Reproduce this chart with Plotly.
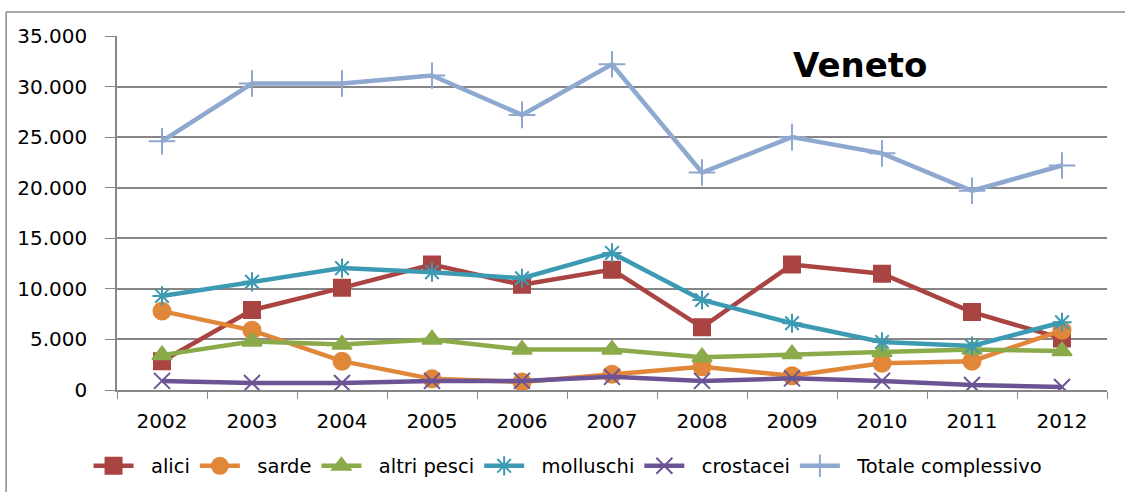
import plotly.graph_objects as go

anni = ['2002', '2003', '2004', '2005', '2006', '2007', '2008', '2009', '2010', '2011', '2012']

alici = [2850, 7900, 10100, 12400, 10400, 11900, 6200, 12400, 11500, 7700, 5100]
sarde = [7800, 5900, 2850, 1100, 800, 1550, 2300, 1400, 2650, 2850, 5900]
altri_pesci = [3450, 4800, 4500, 5000, 4000, 4000, 3250, 3550, 3750, 4000, 3850]
molluschi = [9300, 10700, 12050, 11650, 11050, 13550, 8900, 6600, 4750, 4350, 6700]
crostacei = [900, 700, 700, 900, 900, 1300, 900, 1150, 900, 500, 300]
totale = [24600, 30300, 30300, 31100, 27200, 32200, 21500, 25000, 23400, 19700, 22200]

serie = [
    ('alici', alici, '#A94442', 'square', 16),
    ('sarde', sarde, '#E0873A', 'circle', 17),
    ('altri pesci', altri_pesci, '#8BAA4A', 'triangle-up', 17),
    ('molluschi', molluschi, '#3D9AB3', 'asterisk-open', 16),
    ('crostacei', crostacei, '#6C5494', 'x-thin-open', 16),
    ('Totale complessivo', totale, '#8EA8D0', 'cross-thin-open', 19),
]

fig = go.Figure()
for nome, valori, colore, simbolo, dim in serie:
    # two nbsp in front so the text sits further from the legend symbol, like Excel
    fig.add_trace(go.Scatter(
        x=anni, y=valori, name='\u00a0\u00a0' + nome, mode='lines+markers',
        line=dict(color=colore, width=4.5),
        marker=dict(symbol=simbolo, size=dim, color=colore,
                    line=dict(color=colore, width=2)),
    ))

fig.update_layout(
    width=1125, height=492,
    margin=dict(l=117, r=18, t=36, b=102, autoexpand=False),
    paper_bgcolor='white', plot_bgcolor='white',
    separators=',.',
    font=dict(family='DejaVu Sans, sans-serif', size=20, color='black'),
    showlegend=True,
    legend=dict(orientation='h', x=0.4556, xanchor='center', y=-0.215, yanchor='middle',
                font=dict(size=19.5), itemwidth=40, tracegroupgap=0),
    annotations=[dict(text='<b>Veneto</b>', xref='paper', yref='paper',
                      x=0.7505, y=0.918, xanchor='center', yanchor='middle',
                      showarrow=False, font=dict(size=34, color='black'))],
    shapes=[
        dict(type='line', xref='paper', yref='paper', x0=-0.112, x1=-0.112, y0=1.068, y1=-0.35,
             line=dict(color='#8C8C8C', width=1.5)),
        dict(type='line', xref='paper', yref='paper', x0=-0.112, x1=1.1, y0=1.068, y1=1.068,
             line=dict(color='#8C8C8C', width=1.5)),
    ],
)

fig.update_xaxes(
    type='category', range=[-0.5, len(anni) - 0.5], tickson='boundaries',
    ticks='outside', ticklen=7,
    tickcolor='#868686', showline=True, linecolor='#868686', linewidth=1.5,
    showgrid=False, ticklabelstandoff=12, automargin=False,
)
fig.update_yaxes(
    range=[0, 35000], dtick=5000, tickformat=',d', ticks='outside', ticklen=10,
    tickcolor='#868686', showline=True, linecolor='#868686', linewidth=1.5,
    showgrid=True, gridcolor='#868686', gridwidth=1.5, zeroline=False,
    ticklabelstandoff=14, automargin=False,
)

fig.write_html('out.html', config={'displayModeBar': False},
               post_script="document.body.style.margin='0';")
